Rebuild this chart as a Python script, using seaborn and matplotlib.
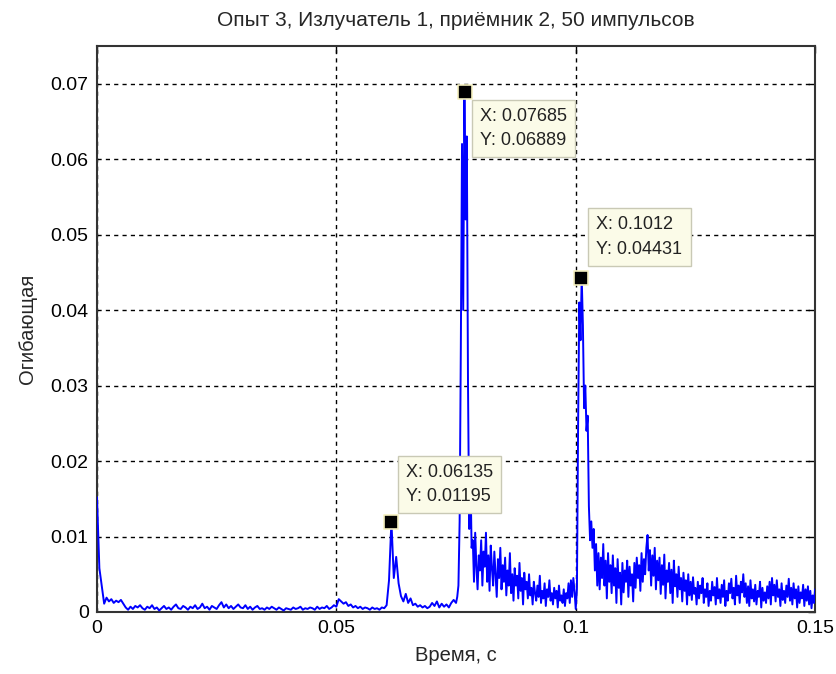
import numpy as np
import pandas as pd
import matplotlib
matplotlib.use("Agg")
import matplotlib.pyplot as plt
import seaborn as sns

# огибающая: спокойный участок 0 ... 0.0745 с, шаг 0.0005 с
DT_QUIET = 0.0005
env_quiet = [
    0.0152, 0.0058, 0.0034, 0.0011, 0.0019, 0.0014, 0.0017, 0.0012, 0.0015, 0.0013,
    0.0016, 0.0011, 0.0006, 0.0003, 0.0007, 0.0004, 0.0008, 0.0006, 0.0009, 0.0005,
    0.0003, 0.0007, 0.0005, 0.0009, 0.0004, 0.0006, 0.0002, 0.0005, 0.0008, 0.0004,
    0.0006, 0.0003, 0.0007, 0.0010, 0.0005, 0.0004, 0.0008, 0.0006, 0.0003, 0.0007,
    0.0005, 0.0009, 0.0004, 0.0006, 0.0011, 0.0005, 0.0007, 0.0003, 0.0008, 0.0006,
    0.0004, 0.0009, 0.0013, 0.0006, 0.0010, 0.0005, 0.0008, 0.0004, 0.0007, 0.0010,
    0.0006, 0.0005, 0.0009, 0.0004, 0.0007, 0.0003, 0.0006, 0.0008, 0.0004, 0.0005,
    0.0003, 0.0006, 0.0004, 0.0007, 0.0005, 0.0003, 0.0006, 0.0004, 0.0002, 0.0005,
    0.0004, 0.0003, 0.0006, 0.0004, 0.0005, 0.0007, 0.0003, 0.0005, 0.0004, 0.0006,
    0.0005, 0.0003, 0.0007, 0.0004, 0.0006, 0.0005, 0.0008, 0.0004, 0.0006, 0.0009,
    0.0007, 0.0017, 0.0014, 0.0011, 0.0013, 0.0008, 0.0010, 0.0006, 0.0008, 0.0005,
    0.0007, 0.0004, 0.0006, 0.0005, 0.0003, 0.0006, 0.0004, 0.0005, 0.0003, 0.0006,
    0.0005, 0.0009, 0.0042, 0.0120, 0.0045, 0.0073, 0.0038, 0.0021, 0.0014, 0.0024,
    0.0012, 0.0018, 0.0009, 0.0011, 0.0007, 0.0009, 0.0006, 0.0008, 0.0005, 0.0007,
    0.0012, 0.0008, 0.0014, 0.0006, 0.0011, 0.0007, 0.0010, 0.0006, 0.0012, 0.0016,
]

# огибающая: участок с эхо-сигналами 0.075 ... 0.15 с, шаг 0.00025 с
T_BUSY = 0.075
DT_BUSY = 0.00025
env_busy = [
    0.0012, 0.0020, 0.0035, 0.0120, 0.0350, 0.0620, 0.0400, 0.0689, 0.0520, 0.0630,
    0.0300, 0.0110, 0.0190, 0.0085, 0.0095, 0.0040, 0.0105, 0.0060, 0.0030, 0.0075,
    0.0055, 0.0095, 0.0035, 0.0080, 0.0060, 0.0105, 0.0040, 0.0075, 0.0028, 0.0088,
    0.0058, 0.0035, 0.0080, 0.0050, 0.0020, 0.0070, 0.0045, 0.0085, 0.0030, 0.0062,
    0.0040, 0.0072, 0.0022, 0.0055, 0.0035, 0.0078, 0.0025, 0.0050, 0.0015, 0.0058,
    0.0035, 0.0048, 0.0018, 0.0065, 0.0028, 0.0045, 0.0010, 0.0052, 0.0030, 0.0040,
    0.0018, 0.0050, 0.0022, 0.0032, 0.0010, 0.0040, 0.0025, 0.0015, 0.0035, 0.0020,
    0.0048, 0.0012, 0.0028, 0.0018, 0.0038, 0.0008, 0.0030, 0.0020, 0.0042, 0.0015,
    0.0025, 0.0010, 0.0032, 0.0018, 0.0028, 0.0006, 0.0035, 0.0015, 0.0022, 0.0012,
    0.0030, 0.0008, 0.0025, 0.0018, 0.0038, 0.0012, 0.0042, 0.0020, 0.0045, 0.0028,
    0.0004, 0.0030, 0.0250, 0.0410, 0.0360, 0.0443, 0.0380, 0.0270, 0.0300, 0.0240,
    0.0260, 0.0140, 0.0095, 0.0120, 0.0085, 0.0110, 0.0055, 0.0090, 0.0035, 0.0078,
    0.0030, 0.0072, 0.0045, 0.0090, 0.0035, 0.0068, 0.0018, 0.0078, 0.0040, 0.0062,
    0.0025, 0.0075, 0.0035, 0.0058, 0.0012, 0.0070, 0.0032, 0.0052, 0.0010, 0.0065,
    0.0026, 0.0055, 0.0040, 0.0068, 0.0020, 0.0060, 0.0035, 0.0050, 0.0014, 0.0065,
    0.0032, 0.0072, 0.0045, 0.0062, 0.0028, 0.0078, 0.0040, 0.0070, 0.0050, 0.0085,
    0.0102, 0.0055, 0.0082, 0.0035, 0.0075, 0.0048, 0.0085, 0.0030, 0.0068, 0.0042,
    0.0072, 0.0024, 0.0062, 0.0036, 0.0076, 0.0018, 0.0055, 0.0040, 0.0065, 0.0025,
    0.0056, 0.0012, 0.0068, 0.0034, 0.0050, 0.0020, 0.0060, 0.0030, 0.0045, 0.0014,
    0.0052, 0.0028, 0.0042, 0.0010, 0.0050, 0.0022, 0.0040, 0.0016, 0.0046, 0.0024,
    0.0032, 0.0010, 0.0040, 0.0018, 0.0035, 0.0025, 0.0045, 0.0012, 0.0030, 0.0020,
    0.0038, 0.0008, 0.0028, 0.0015, 0.0040, 0.0022, 0.0033, 0.0010, 0.0045, 0.0018,
    0.0030, 0.0012, 0.0036, 0.0020, 0.0042, 0.0008, 0.0028, 0.0015, 0.0038, 0.0025,
    0.0044, 0.0018, 0.0032, 0.0010, 0.0048, 0.0022, 0.0035, 0.0012, 0.0040, 0.0026,
    0.0050, 0.0020, 0.0038, 0.0012, 0.0034, 0.0008, 0.0042, 0.0018, 0.0030, 0.0014,
    0.0036, 0.0010, 0.0028, 0.0020, 0.0040, 0.0006, 0.0032, 0.0015, 0.0026, 0.0012,
    0.0034, 0.0018, 0.0040, 0.0010, 0.0045, 0.0022, 0.0036, 0.0014, 0.0042, 0.0020,
    0.0030, 0.0008, 0.0038, 0.0016, 0.0028, 0.0012, 0.0035, 0.0020, 0.0044, 0.0015,
    0.0032, 0.0010, 0.0038, 0.0018, 0.0030, 0.0006, 0.0034, 0.0012, 0.0026, 0.0018,
    0.0036, 0.0008, 0.0030, 0.0015, 0.0034, 0.0010, 0.0028, 0.0005, 0.0022, 0.0012,
    0.0030,
]

# метки данных (datatips)
tip_x = [0.07685, 0.1012, 0.06135]
tip_y = [0.06889, 0.04431, 0.01195]
tip_labels = ["X: 0.07685\nY: 0.06889", "X: 0.1012\nY: 0.04431", "X: 0.06135\nY: 0.01195"]

x_ticks = [0, 0.05, 0.1, 0.15]
x_ticklabels = ["0", "0.05", "0.1", "0.15"]
y_ticks = [0, 0.01, 0.02, 0.03, 0.04, 0.05, 0.06, 0.07]
y_ticklabels = ["0", "0.01", "0.02", "0.03", "0.04", "0.05", "0.06", "0.07"]


def main():
    t = np.concatenate([np.arange(len(env_quiet)) * DT_QUIET,
                        T_BUSY + np.arange(len(env_busy)) * DT_BUSY])
    df = pd.DataFrame({"t": t, "env": env_quiet + env_busy})

    sns.set_style("white")
    plt.rcParams["font.family"] = ["Liberation Sans", "DejaVu Sans"]

    fig = plt.figure(figsize=(8.36, 6.74), dpi=100)
    ax = fig.add_axes([0.116, 0.092, 0.859, 0.84])

    sns.lineplot(data=df, x="t", y="env", color="#0000ff", linewidth=1.4,
                 estimator=None, sort=False, ax=ax, zorder=3)

    ax.set_xlim(0, 0.15)
    ax.set_ylim(0, 0.075)
    ax.set_xticks(x_ticks)
    ax.set_xticklabels(x_ticklabels)
    ax.set_yticks(y_ticks)
    ax.set_yticklabels(y_ticklabels)
    ax.tick_params(direction="in", length=5, width=1, labelsize=14,
                   top=True, right=True, colors="black", pad=6)

    ax.grid(True, color="black", linestyle=(0, (3, 3)), linewidth=1.0)
    for s in ax.spines.values():
        s.set_color("#333333")
        s.set_linewidth(1.5)

    # datatips
    sns.scatterplot(x=tip_x, y=tip_y, marker="s", s=90, color="black",
                    edgecolor="#f5f0c0", linewidth=1.2, ax=ax, zorder=5)
    offsets = [(15, -16, "top"), (15, 20, "bottom"), (15, 17, "bottom")]
    for xv, yv, lab, (dx, dy, va) in zip(tip_x, tip_y, tip_labels, offsets):
        ax.annotate(lab, xy=(xv, yv), xytext=(dx, dy), textcoords="offset pixels",
                    ha="left", va=va, fontsize=13, color="#222222", linespacing=1.55,
                    bbox=dict(boxstyle="square,pad=0.45", fc="#fbfbe8", ec="#c9c9b5", lw=1),
                    zorder=6)

    ax.set_title("Опыт 3, Излучатель 1, приёмник 2, 50 импульсов", fontsize=15, pad=14)
    ax.set_xlabel("Время, с", fontsize=14.5, labelpad=6)
    ax.set_ylabel("Огибающая", fontsize=14.5, labelpad=10)

    fig.savefig("out.png", dpi=100)


if __name__ == "__main__":
    main()
